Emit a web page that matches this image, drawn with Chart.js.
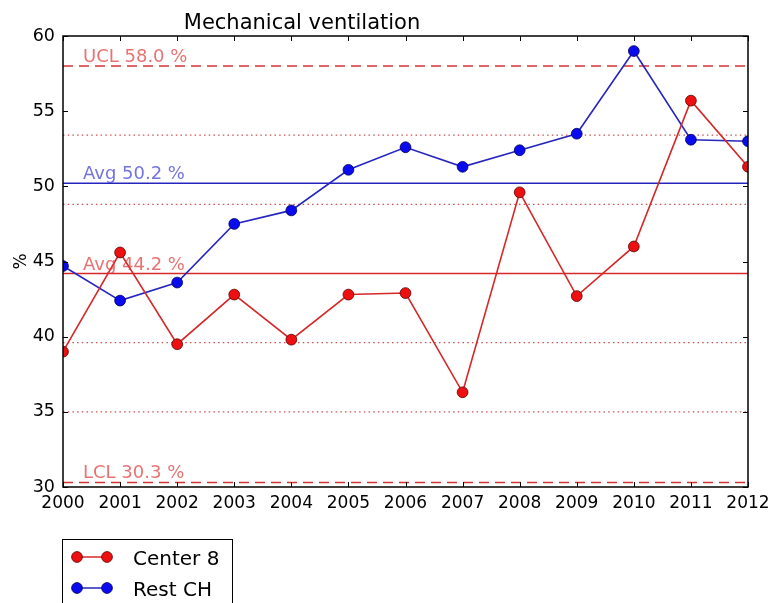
<!DOCTYPE html>
<html>
<head>
<meta charset="utf-8">
<script src="https://cdn.jsdelivr.net/npm/chart.js"></script>
<style>
  html, body { margin: 0; padding: 0; background: #ffffff; }
  #wrap { width: 772px; height: 603px; }
</style>
</head>
<body>
<div id="wrap"><canvas id="chart" width="772" height="603"></canvas></div>
<script>
// data
const years = [2000, 2001, 2002, 2003, 2004, 2005, 2006, 2007, 2008, 2009, 2010, 2011, 2012];
const center8 = [39.0, 45.6, 39.5, 42.8, 39.8, 42.8, 42.9, 36.3, 49.6, 42.7, 46.0, 55.7, 51.3];
const restCH = [44.7, 42.4, 43.6, 47.5, 48.4, 51.1, 52.6, 51.3, 52.4, 53.5, 59.0, 53.1, 53.0];

// control limits of Center 8 and the averages
const limitLines = [58.0, 30.3];
const sigmaLines = [53.4, 48.8, 39.6, 35.0];
const avgCenter8 = 44.2;
const avgRestCH = 50.2;

const refLabels = ['UCL 58.0 %', 'Avg 50.2 %', 'Avg 44.2 %', 'LCL 30.3 %'];
const refLabelValues = [58.0, 50.2, 44.2, 30.3];
const refLabelColors = ['rgba(222,60,60,0.72)', 'rgba(70,70,215,0.75)', 'rgba(222,60,60,0.72)', 'rgba(222,60,60,0.72)'];

const yMin = 30, yMax = 60, yStep = 5;
const xMin = 2000, xMax = 2012;

const FONT = "'DejaVu Sans', sans-serif";
const RED_LINE = '#d62828';
const BLUE_LINE = '#2626bf';

const pts = (vals) => years.map((y, i) => ({ x: y, y: vals[i] }));
const flat = (v) => [{ x: xMin, y: v }, { x: xMax, y: v }];

const refSets = [];
limitLines.forEach(v => refSets.push({
  data: flat(v), borderColor: '#d83030', borderWidth: 1.5, borderDash: [10, 6],
  pointRadius: 0
}));
sigmaLines.forEach(v => refSets.push({
  data: flat(v), borderColor: '#cc5050', borderWidth: 1.2, borderDash: [1.5, 3.2],
  pointRadius: 0
}));
refSets.push({ data: flat(avgRestCH), borderColor: BLUE_LINE, borderWidth: 1.5, pointRadius: 0 });
refSets.push({ data: flat(avgCenter8), borderColor: RED_LINE, borderWidth: 1.5, pointRadius: 0 });

// title, axis label, inward ticks, frame, line labels and legend
const decor = {
  id: 'decor',
  afterDatasetsDraw(chart) {
    const ctx = chart.ctx, a = chart.chartArea;
    const xs = chart.scales.x, ys = chart.scales.y;
    ctx.save();

    // labels on the reference lines
    ctx.font = '18px ' + FONT;
    ctx.textAlign = 'left';
    ctx.textBaseline = 'alphabetic';
    refLabels.forEach((t, i) => {
      ctx.fillStyle = refLabelColors[i];
      ctx.fillText(t, a.left + 20, ys.getPixelForValue(refLabelValues[i]) - 4);
    });

    // inward tick marks on all four sides
    ctx.strokeStyle = '#000';
    ctx.lineWidth = 1;
    ctx.beginPath();
    xs.ticks.forEach(t => {
      const px = Math.round(xs.getPixelForValue(t.value)) + 0.5;
      ctx.moveTo(px, a.bottom); ctx.lineTo(px, a.bottom - 5);
      ctx.moveTo(px, a.top); ctx.lineTo(px, a.top + 5);
    });
    ys.ticks.forEach(t => {
      const py = Math.round(ys.getPixelForValue(t.value)) + 0.5;
      ctx.moveTo(a.left, py); ctx.lineTo(a.left + 5, py);
      ctx.moveTo(a.right, py); ctx.lineTo(a.right - 5, py);
    });
    ctx.stroke();

    // frame
    ctx.lineWidth = 1.5;
    ctx.strokeRect(a.left, a.top, a.right - a.left, a.bottom - a.top);

    // title
    ctx.fillStyle = '#000';
    ctx.font = '21px ' + FONT;
    ctx.textAlign = 'center';
    ctx.fillText('Mechanical ventilation', 302, 29);

    // y axis label
    ctx.save();
    ctx.translate(26, (a.top + a.bottom) / 2);
    ctx.rotate(-Math.PI / 2);
    ctx.font = '17px ' + FONT;
    ctx.textAlign = 'center';
    ctx.fillText('%', 0, 0);
    ctx.restore();

    // legend box under the plot
    ctx.lineWidth = 1;
    ctx.strokeStyle = '#000';
    ctx.strokeRect(62.5, 539.5, 170, 80);
    ctx.font = '20px ' + FONT;
    ctx.textAlign = 'left';
    chart.data.datasets.slice(0, 2).forEach((ds, i) => {
      const cy = 557 + i * 31;
      ctx.strokeStyle = ds.borderColor;
      ctx.lineWidth = 1.5;
      ctx.beginPath(); ctx.moveTo(77, cy); ctx.lineTo(107, cy); ctx.stroke();
      [77, 107].forEach(cx => {
        ctx.beginPath();
        ctx.arc(cx, cy, 5.4, 0, Math.PI * 2);
        ctx.fillStyle = ds.pointBackgroundColor;
        ctx.fill();
        ctx.lineWidth = 0.8;
        ctx.strokeStyle = ds.pointBorderColor;
        ctx.stroke();
      });
      ctx.fillStyle = '#000';
      ctx.fillText(ds.label, 133, cy + 8);
    });

    ctx.restore();
  }
};

new Chart(document.getElementById('chart'), {
  type: 'line',
  data: {
    datasets: [
      {
        label: 'Center 8',
        data: pts(center8),
        borderColor: RED_LINE,
        borderWidth: 1.6,
        pointBackgroundColor: '#ee1010',
        pointBorderColor: '#5a0000',
        pointBorderWidth: 0.8,
        pointRadius: 5.4,
        clip: 0
      },
      {
        label: 'Rest CH',
        data: pts(restCH),
        borderColor: BLUE_LINE,
        borderWidth: 1.6,
        pointBackgroundColor: '#0a0aee',
        pointBorderColor: '#00005a',
        pointBorderWidth: 0.8,
        pointRadius: 5.4,
        clip: 0
      },
      ...refSets
    ]
  },
  options: {
    responsive: false,
    animation: false,
    layout: { padding: { left: 0, right: 24, top: 36, bottom: 0 } },
    plugins: {
      legend: { display: false },
      tooltip: { enabled: false },
      title: { display: false }
    },
    scales: {
      x: {
        type: 'linear',
        min: xMin,
        max: xMax,
        // grid hidden; tickLength only spaces the labels off the axis
        grid: { display: false, drawTicks: true, tickLength: 5 },
        border: { display: false },
        ticks: {
          stepSize: 1,
          color: '#000',
          font: { family: FONT, size: 17 },
          padding: 1,
          maxRotation: 0,
          callback: v => String(v)
        },
        afterFit(s) { s.height = 116; }
      },
      y: {
        min: yMin,
        max: yMax,
        grid: { display: false, drawTicks: false },
        border: { display: false },
        ticks: {
          stepSize: yStep,
          color: '#000',
          font: { family: FONT, size: 17.5 },
          padding: 8
        },
        afterFit(s) { s.width = 63; }
      }
    }
  },
  plugins: [decor]
});
</script>
</body>
</html>
